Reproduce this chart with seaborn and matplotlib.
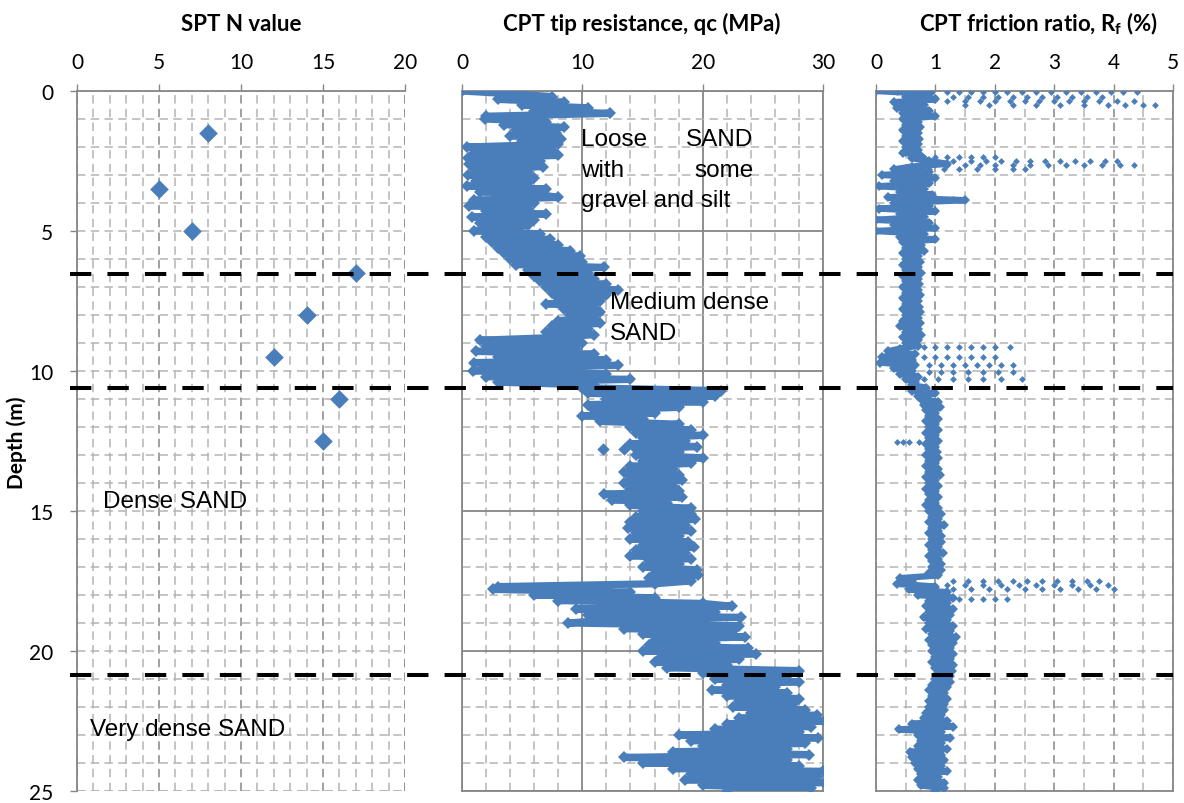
import numpy as np
import pandas as pd
import seaborn as sns
import matplotlib.pyplot as plt
from matplotlib.lines import Line2D
from matplotlib.ticker import MultipleLocator
from matplotlib.transforms import blended_transform_factory

# --- SPT blow counts
spt_depth = [1.5, 3.5, 5.0, 6.5, 8.0, 9.5, 11.0, 12.5]
spt_n = [8, 5, 7, 17, 14, 12, 16, 15]

# --- CPT tip resistance (MPa), one reading every 0.1 m, one row per metre
qc_rows = [
    [0.0, 4.0, 7.5, 3.0, 8.5, 5.0, 10.5, 6.0, 12.3, 2.0],
    [1.9, 7.0, 3.5, 8.5, 4.5, 7.8, 4.0, 8.2, 5.0, 8.0],
    [0.4, 7.5, 1.0, 8.0, 0.5, 6.5, 0.6, 6.7, 1.0, 5.5],
    [0.5, 6.0, 1.2, 5.5, 0.4, 7.0, 1.5, 6.5, 8.0, 1.0],
    [6.0, 0.6, 5.5, 2.0, 7.0, 0.8, 6.0, 1.5, 5.5, 2.2],
    [1.0, 6.5, 2.0, 7.3, 2.5, 8.0, 3.0, 9.0, 3.5, 9.8],
    [4.0, 10.0, 4.5, 11.8, 5.5, 10.5, 6.0, 11.0, 6.5, 12.0],
    [7.0, 13.0, 7.5, 12.0, 8.0, 11.5, 7.0, 11.0, 8.5, 11.5],
    [9.0, 11.0, 8.0, 11.5, 7.5, 10.5, 7.0, 11.0, 8.0, 1.5],
    [10.0, 2.0, 9.5, 1.2, 11.0, 3.0, 12.0, 1.0, 13.0, 2.5],
    [0.9, 12.0, 2.0, 14.0, 3.0, 11.0, 10.0, 21.5, 10.5, 21.0],
    [12.0, 20.0, 10.5, 18.0, 11.0, 16.0, 10.0, 15.0, 11.5, 18.0],
    [14.0, 19.0, 14.5, 20.0, 15.0, 18.5, 14.0, 19.5, 14.5, 18.0],
    [14.5, 20.0, 15.0, 19.0, 14.0, 17.5, 13.5, 18.0, 14.0, 18.3],
    [13.5, 17.5, 14.0, 18.0, 11.8, 18.3, 12.5, 17.0, 14.0, 19.0],
    [15.0, 19.0, 14.5, 19.4, 14.0, 18.5, 13.8, 19.0, 14.5, 18.0],
    [14.0, 18.8, 15.0, 19.3, 14.5, 18.5, 14.0, 19.0, 15.5, 18.0],
    [15.0, 19.5, 16.0, 19.6, 15.5, 19.0, 16.0, 3.0, 2.6, 14.0],
    [6.0, 16.0, 8.0, 20.0, 22.4, 9.5, 21.0, 10.5, 23.2, 12.0],
    [8.8, 23.0, 13.5, 22.5, 15.0, 23.5, 16.0, 21.0, 15.5, 23.8],
    [15.0, 24.4, 16.5, 23.0, 16.0, 22.0, 17.0, 28.0, 20.0, 27.0],
    [21.0, 28.0, 22.0, 26.0, 20.8, 27.0, 22.0, 28.0, 23.0, 27.5],
    [22.5, 28.5, 24.0, 29.5, 23.0, 30.2, 22.0, 29.0, 21.0, 28.0],
    [18.0, 29.6, 19.0, 28.5, 20.0, 27.0, 17.5, 28.8, 13.5, 27.0],
    [15.0, 28.0, 17.5, 30.0, 19.0, 29.5, 18.5, 30.2, 20.0, 29.0],
    [22.0],
]
qc_iso_depth = [12.8, 12.8]
qc_iso_val = [11.7, 13.5]

# --- CPT friction ratio (%), same 0.1 m readings
rf_rows = [
    [0.0, 0.9, 0.5, 1.0, 0.3, 0.8, 0.35, 0.9, 0.45, 1.0],
    [0.45, 0.7, 0.5, 0.74, 0.45, 0.7, 0.5, 0.72, 0.45, 0.7],
    [0.5, 0.7, 0.45, 0.74, 0.6, 0.9, 1.2, 0.6, 0.3, 0.9],
    [0.1, 1.0, 0.3, 0.9, 0.05, 0.8, 0.4, 0.95, 0.2, 1.5],
    [0.3, 0.9, 0.05, 1.0, 0.4, 0.8, 0.0, 0.9, 0.3, 1.0],
    [0.0, 0.8, 0.4, 1.0, 0.45, 0.75, 0.5, 0.8, 0.45, 0.7],
    [0.5, 0.74, 0.45, 0.7, 0.5, 0.75, 0.45, 0.7, 0.5, 0.72],
    [0.45, 0.7, 0.5, 0.74, 0.45, 0.7, 0.5, 0.72, 0.45, 0.74],
    [0.5, 0.7, 0.45, 0.74, 0.4, 0.7, 0.5, 0.75, 0.45, 0.7],
    [0.5, 0.7, 0.4, 0.2, 0.65, 0.1, 0.6, 0.07, 0.65, 0.3],
    [0.6, 0.4, 0.7, 0.5, 0.65, 0.6, 0.85, 0.6, 1.0, 0.7],
    [0.75, 1.05, 0.8, 1.08, 0.85, 1.0, 0.9, 1.05, 0.85, 1.0],
    [0.9, 1.05, 0.85, 1.0, 0.9, 1.05, 0.85, 1.0, 0.9, 1.02],
    [0.85, 1.05, 0.9, 1.0, 0.85, 1.05, 0.9, 1.08, 0.85, 1.0],
    [0.9, 1.05, 0.85, 1.0, 0.9, 1.05, 0.9, 1.0, 0.85, 1.05],
    [0.9, 1.1, 0.95, 1.05, 0.9, 1.15, 0.95, 1.05, 0.9, 1.1],
    [0.95, 1.1, 0.9, 1.05, 0.95, 1.13, 0.9, 1.05, 0.95, 1.1],
    [0.95, 1.1, 0.9, 1.05, 0.4, 0.6, 0.35, 1.0, 0.55, 1.2],
    [0.7, 1.3, 0.9, 1.2, 0.85, 1.3, 0.9, 1.25, 0.8, 1.2],
    [0.9, 1.3, 0.85, 1.25, 0.95, 1.35, 0.9, 1.3, 0.95, 1.25],
    [0.95, 1.3, 1.0, 1.25, 0.95, 1.3, 1.0, 1.28, 1.05, 1.25],
    [1.0, 1.25, 0.95, 1.2, 0.9, 1.15, 0.95, 1.2, 0.9, 1.15],
    [0.9, 1.15, 0.85, 1.1, 0.8, 1.2, 0.6, 1.3, 0.38, 1.1],
    [0.7, 1.25, 0.75, 1.1, 0.7, 1.2, 0.57, 1.1, 0.6, 1.15],
    [0.65, 1.1, 0.7, 1.2, 0.75, 1.05, 0.7, 1.15, 0.75, 1.15],
    [1.0],
]

# scattered high friction-ratio readings (depth, values)
rf_spikes = [
    (0.05, [0.35, 0.55, 0.75, 0.95, 1.2, 1.4, 1.6, 1.8, 2.0, 2.2, 2.45, 2.7, 2.95, 3.2, 3.45, 3.7, 3.95, 4.15, 4.4]),
    (0.2, [1.0, 1.3, 1.55, 1.8, 2.05, 2.3, 2.55, 2.8, 3.05, 3.3, 3.55, 3.8]),
    (0.35, [1.2, 1.5, 1.75, 2.0, 2.25, 2.5, 2.75, 3.0, 3.25, 3.5, 3.75, 4.05, 4.35]),
    (0.5, [1.5, 1.9, 2.3, 2.7, 3.1, 3.5, 3.9, 4.2, 4.5, 4.7]),
    (2.35, [0.8, 1.0, 1.2, 1.4, 1.6, 1.8, 2.0]),
    (2.5, [1.0, 1.3, 1.6, 1.85, 2.1, 2.35, 2.6, 2.85, 3.1, 3.35, 3.6, 3.85, 4.05]),
    (2.65, [1.2, 1.5, 1.75, 2.0, 2.3, 2.6, 2.9, 3.2, 3.5, 3.8, 4.1, 4.35]),
    (2.8, [0.9, 1.15, 1.4, 1.7, 2.0, 2.3, 2.5]),
    (3.85, [0.9, 1.1, 1.3, 1.5]),
    (9.15, [0.8, 1.0, 1.2, 1.4, 1.6, 1.8, 2.0, 2.25]),
    (9.5, [0.8, 1.0, 1.2, 1.4, 1.6, 1.8, 2.0]),
    (9.8, [0.9, 1.1, 1.3, 1.5, 1.7, 1.9, 2.1, 2.3]),
    (10.05, [0.9, 1.1, 1.3, 1.55, 1.8, 2.05, 2.3]),
    (10.3, [0.8, 1.05, 1.3, 1.55, 1.8, 2.1, 2.45]),
    (12.55, [0.35, 0.45, 0.55, 0.72]),
    (17.5, [1.3, 1.55, 1.8, 2.05, 2.3, 2.55, 2.8, 3.05, 3.3, 3.55, 3.75]),
    (17.65, [1.2, 1.5, 1.8, 2.1, 2.4, 2.7, 3.0, 3.3, 3.6, 3.9]),
    (17.8, [1.3, 1.6, 1.9, 2.2, 2.5, 2.8, 3.1, 3.4, 3.7, 4.0]),
    (18.15, [1.4, 1.6, 1.8, 2.0, 2.2]),
]

layer_depths = [6.55, 10.6, 20.85]

# --- build tables
qc = [v for row in qc_rows for v in row]
rf = [v for row in rf_rows for v in row]
cpt = pd.DataFrame({"depth": np.arange(len(qc)) * 0.1, "qc": qc, "rf": rf})
spt = pd.DataFrame({"depth": spt_depth, "N": spt_n})
spk = pd.DataFrame([(d, v) for d, vals in rf_spikes for v in vals], columns=["depth", "rf"])

BLUE = "#4a7ebb"
MAJ = "#868686"
MIN = "#b4b4b4"
DASH = (0, (5.5, 3.5))

sns.set_theme(style="white")
plt.rcParams["font.family"] = ["Lato", "DejaVu Sans"]
plt.rcParams["text.color"] = "black"
plt.rcParams["mathtext.fontset"] = "custom"
plt.rcParams["mathtext.rm"] = "Lato"
plt.rcParams["mathtext.bf"] = "Lato:bold"

W, H = 1184, 804
fig = plt.figure(figsize=(W / 100, H / 100), dpi=100)


def px_axes(x0, x1, y0=92, y1=792):
    return fig.add_axes([x0 / W, 1 - y1 / H, (x1 - x0) / W, (y1 - y0) / H])


ax1 = px_axes(77, 405)
ax2 = px_axes(462, 823)
ax3 = px_axes(876, 1173)

# SPT
sns.scatterplot(data=spt, x="N", y="depth", marker="D", s=90, color=BLUE,
                edgecolor=BLUE, linewidth=0, ax=ax1, zorder=3)

# qc
band = dict(sort=False, estimator=None, orient="y", color=BLUE, marker="D",
            markeredgewidth=0, solid_joinstyle="round", solid_capstyle="round", zorder=3)
sns.lineplot(data=cpt, x="qc", y="depth", lw=5.2, markersize=6.5, ax=ax2, **band)
sns.scatterplot(x=qc_iso_val, y=qc_iso_depth, marker="D", s=40, color=BLUE,
                linewidth=0, ax=ax2, zorder=3)

# Rf
sns.lineplot(data=cpt, x="rf", y="depth", lw=4.6, markersize=5, ax=ax3, **band)
sns.scatterplot(data=spk, x="rf", y="depth", marker="D", s=12, color=BLUE,
                linewidth=0, ax=ax3, zorder=3)

for ax, xmax, xmaj, xmin in [(ax1, 20, 5, 1), (ax2, 30, 10, 2), (ax3, 5, 1, 0.5)]:
    ax.set_xlim(0, xmax)
    ax.set_ylim(25, 0)
    ax.set_xlabel("")
    ax.set_ylabel("")
    ax.xaxis.set_major_locator(MultipleLocator(xmaj))
    ax.xaxis.set_minor_locator(MultipleLocator(xmin))
    ax.yaxis.set_major_locator(MultipleLocator(5))
    ax.yaxis.set_minor_locator(MultipleLocator(1))
    ax.xaxis.tick_top()
    ax.tick_params(axis="x", which="major", direction="out", length=5, width=1,
                   color=MAJ, labelsize=15, pad=9, top=True, bottom=False,
                   labeltop=True, labelbottom=False, labelcolor="black")
    ax.tick_params(axis="both", which="minor", length=0)
    ax.set_axisbelow(True)
    for sp in ax.spines.values():
        sp.set_color(MAJ)
        sp.set_linewidth(1.3)

# SPT panel: dashed grid everywhere, open right/bottom
ax1.xaxis.grid(True, which="major", color=MAJ, ls=DASH, lw=1.1)
ax1.xaxis.grid(True, which="minor", color=MIN, ls=DASH, lw=1.1)
ax1.yaxis.grid(True, which="both", color=MIN, ls=DASH, lw=1.1)
ax1.spines["right"].set_visible(False)
ax1.spines["bottom"].set_visible(False)
ax1.tick_params(axis="y", which="major", direction="out", length=5, width=1,
                color=MAJ, labelsize=15, pad=12, left=True, labelleft=True,
                labelcolor="black")
ax1.axvline(20, color=MIN, ls=DASH, lw=1.1, zorder=0)
ax1.axhline(25, color=MIN, ls=DASH, lw=1.1, zorder=0)

# qc panel: solid major, dashed minor
ax2.xaxis.grid(True, which="major", color=MAJ, ls="-", lw=1.3)
ax2.yaxis.grid(True, which="major", color=MAJ, ls="-", lw=1.3)
ax2.xaxis.grid(True, which="minor", color=MIN, ls=DASH, lw=1.1)
ax2.yaxis.grid(True, which="minor", color=MIN, ls=DASH, lw=1.1)
ax2.tick_params(axis="y", which="major", length=0, labelleft=False)

# Rf panel
ax3.xaxis.grid(True, which="major", color=MAJ, ls=DASH, lw=1.1)
ax3.xaxis.grid(True, which="minor", color=MIN, ls=DASH, lw=1.1)
ax3.yaxis.grid(True, which="both", color=MIN, ls=DASH, lw=1.1)
ax3.tick_params(axis="y", which="major", length=0, labelleft=False)

# titles and axis label
title_kw = dict(fontsize=16, fontweight="bold", ha="center", va="baseline", color="black")
fig.text(241 / W, 1 - 31 / H, "SPT N value", **title_kw)
fig.text(642 / W, 1 - 31 / H, "CPT tip resistance, qc (MPa)", **title_kw)
fig.text(1039 / W, 1 - 31 / H, r"CPT friction ratio, R$_{\mathbf{f}}$ (%)", **title_kw)
fig.text(17 / W, 1 - 443 / H, "Depth (m)", fontsize=15, fontweight="bold",
         rotation=90, ha="center", va="center", color="black")

# soil layer boundaries across the whole figure
tr = blended_transform_factory(fig.transFigure, ax1.transData)
for d in layer_depths:
    fig.add_artist(Line2D([70 / W, 1173 / W], [d, d], transform=tr, color="black",
                          lw=2.9, ls=(0, (5.3, 4.0)), zorder=10))

# layer descriptions
ann = dict(fontsize=17.5, family=["Liberation Sans", "DejaVu Sans"], va="baseline",
           color="black")
ax2.text(9.9, 1.92, "Loose", ha="left", **ann)
ax2.text(24.2, 1.92, "SAND", ha="right", **ann)
ax2.text(9.9, 3.02, "with", ha="left", **ann)
ax2.text(24.2, 3.02, "some", ha="right", **ann)
ax2.text(9.9, 4.1, "gravel and silt", ha="left", **ann)
ax2.text(12.3, 7.75, "Medium dense", ha="left", **ann)
ax2.text(12.3, 8.85, "SAND", ha="left", **ann)
ax1.text(1.6, 14.85, "Dense SAND", ha="left", **ann)
ax1.text(0.8, 23.0, "Very dense SAND", ha="left", **ann)

fig.savefig("out.png", dpi=100)
